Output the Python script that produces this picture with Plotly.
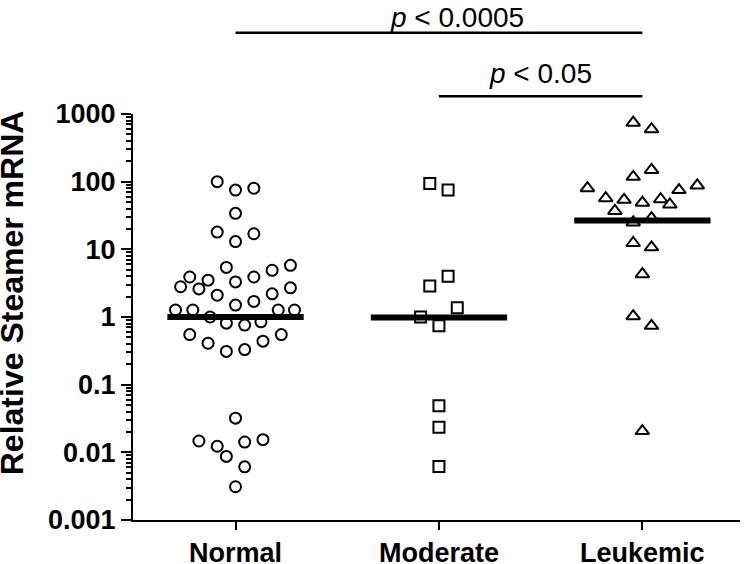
import plotly.graph_objects as go

categories = ["Normal", "Moderate", "Leukemic"]

normal_vals = [100, 75, 80, 34, 18, 13, 17, 5.4, 4.9, 5.8, 3.9, 3.5, 3.3, 3.9,
               2.8, 2.6, 2.1, 2.2, 2.7, 1.5, 1.7, 1.27, 1.27, 1.27, 1.27, 1.0,
               0.81, 0.76, 0.85, 0.55, 0.41, 0.31, 0.33, 0.44, 0.55,
               0.032, 0.0147, 0.0123, 0.0142, 0.0154, 0.0087, 0.0061, 0.0031]
normal_jitter = [-0.09, 0.0, 0.09, 0.0, -0.09, 0.0, 0.09, -0.045, 0.18, 0.27,
                 -0.225, -0.135, 0.0, 0.09, -0.27, -0.18, -0.09, 0.18, 0.27,
                 0.0, 0.09, -0.295, -0.21, 0.21, 0.29, -0.125, -0.045, 0.045,
                 0.125, -0.225, -0.135, -0.045, 0.045, 0.135, 0.225,
                 0.0, -0.18, -0.09, 0.045, 0.135, -0.045, 0.045, 0.0]

moderate_vals = [94, 75, 4.0, 2.86, 1.37, 1.0, 0.74, 0.049, 0.0235, 0.0062]
moderate_jitter = [-0.045, 0.045, 0.045, -0.045, 0.09, -0.09, 0.0, 0.0, 0.0, 0.0]

leukemic_vals = [745, 596, 149, 118, 80, 88, 75, 57, 54, 55, 49, 46, 37, 25,
                 29, 12.4, 10.7, 4.3, 1.03, 0.74, 0.0206]
leukemic_jitter = [-0.045, 0.045, 0.045, -0.045, -0.27, 0.27, 0.18, -0.18,
                   -0.09, 0.09, 0.0, 0.135, -0.135, -0.045, 0.045, -0.045,
                   0.045, 0.0, -0.045, 0.045, 0.0]

medians = [1.0, 0.98, 26.7]

y_tickvals = [0.001, 0.01, 0.1, 1, 10, 100, 1000]
y_ticktext = ["0.001", "0.01", "0.1", "1", "10", "100", "1000"]

# significance brackets: (from group, to group, label)
brackets = [(0, 2, "<i>p</i> &lt; 0.0005"), (1, 2, "<i>p</i> &lt; 0.05")]

FONT = "Arial, Liberation Sans, sans-serif"

groups = [
    (normal_vals, normal_jitter, "circle-open", 11),
    (moderate_vals, moderate_jitter, "square-open", 11),
    (leukemic_vals, leukemic_jitter, "triangle-up-open", 12),
]

fig = go.Figure()

for i, (vals, jit, sym, size) in enumerate(groups):
    fig.add_trace(go.Scatter(
        x=[i + j for j in jit],
        y=vals,
        mode="markers",
        name=categories[i],
        marker=dict(symbol=sym, size=size, color="black",
                    line=dict(color="black", width=2)),
        showlegend=False,
        cliponaxis=False,
    ))

for i, m in enumerate(medians):
    fig.add_trace(go.Scatter(
        x=[i - 0.335, i + 0.335],
        y=[m, m],
        mode="lines",
        line=dict(color="black", width=6),
        showlegend=False,
    ))

bracket_y = [1.2, 1.044]
label_y = [1.238, 1.10]
label_x = [1.09, 1.5]
for (a, b, txt), by, ly, lx in zip(brackets, bracket_y, label_y, label_x):
    fig.add_shape(type="line", xref="x", yref="paper",
                  x0=a, x1=b, y0=by, y1=by,
                  line=dict(color="black", width=2.5))
    fig.add_annotation(x=lx, y=ly, xref="x", yref="paper", text=txt,
                       showarrow=False, yanchor="middle",
                       font=dict(family=FONT, size=28, color="black"))

# y-axis title, a bit above the axis centre as in the original
fig.add_annotation(x=-0.2, y=0.56, xref="paper", yref="paper",
                   text="<b>Relative Steamer mRNA</b>", textangle=-90,
                   showarrow=False, xanchor="center", yanchor="middle",
                   font=dict(family=FONT, size=32, color="black"))

fig.update_xaxes(
    range=[-0.504, 2.48],
    tickvals=[0, 1, 2],
    ticktext=categories,
    showline=True, linecolor="black", linewidth=2,
    ticks="outside", ticklen=8, tickwidth=2, tickcolor="black",
    showgrid=False, zeroline=False,
    tickfont=dict(family=FONT, size=27, color="black", weight="bold"),
)

fig.update_yaxes(
    type="log",
    range=[-3, 3],
    tickvals=y_tickvals,
    ticktext=y_ticktext,
    showline=True, linecolor="black", linewidth=2,
    ticks="outside", ticklen=10, tickwidth=2, tickcolor="black",
    minor=dict(ticks="outside", ticklen=5, tickwidth=1.5, tickcolor="black",
               dtick="D1", showgrid=False),
    showgrid=False, zeroline=False,
    tickfont=dict(family=FONT, size=27, color="black", weight="bold"),
)

fig.update_layout(
    width=748, height=564,
    margin=dict(l=133, r=8, t=114, b=44, autoexpand=False),
    plot_bgcolor="white",
    paper_bgcolor="white",
)

# drop the default 8px page margin so the figure fills the window
fig.write_html("out.html", config={"displayModeBar": False},
               post_script="document.body.style.margin='0';")
